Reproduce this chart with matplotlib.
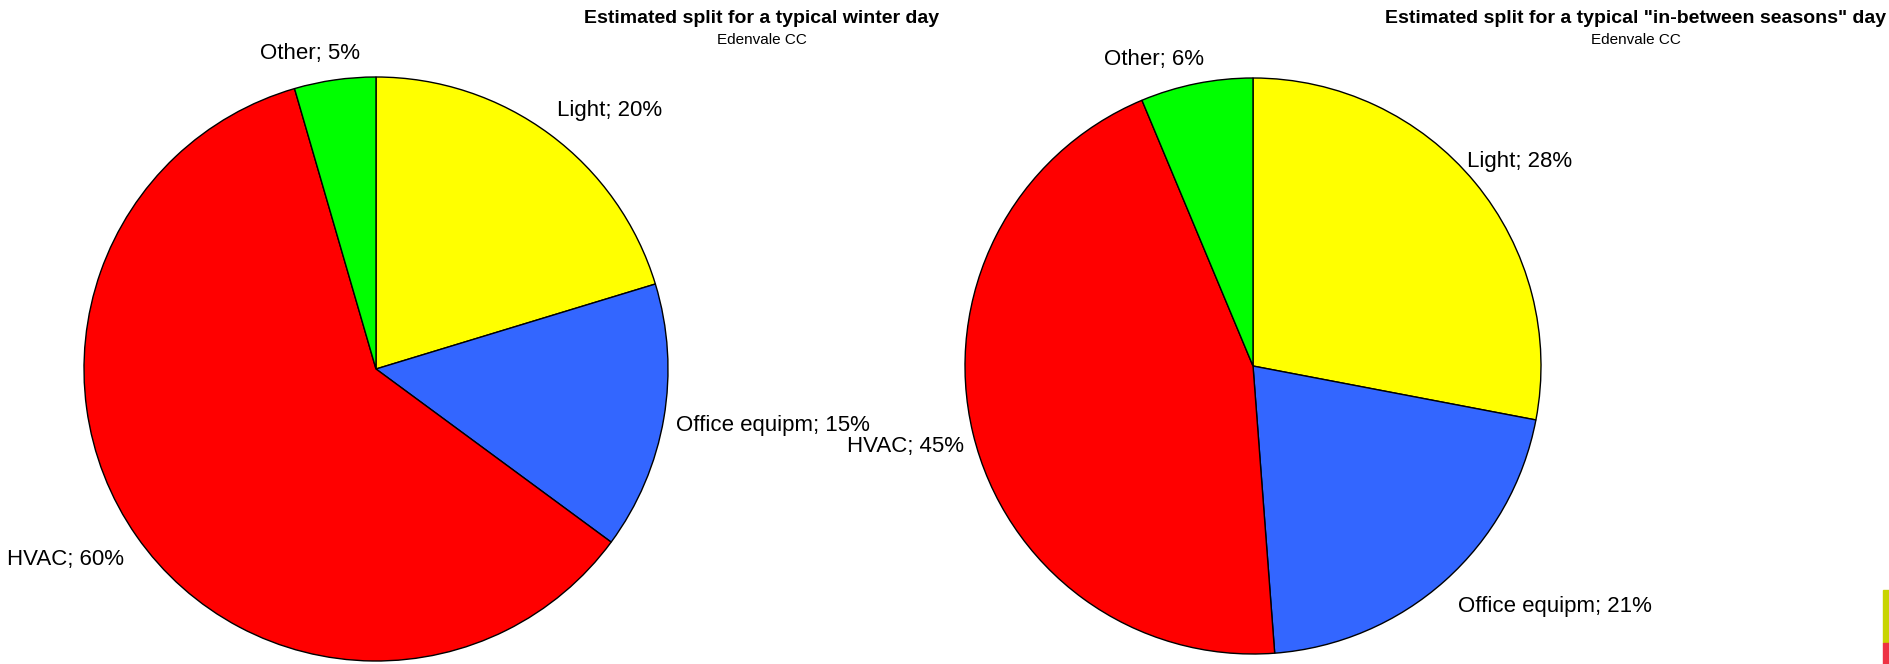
import matplotlib
matplotlib.use("Agg")
import matplotlib.pyplot as plt
import numpy as np

plt.rcParams["font.family"] = ["Liberation Sans", "DejaVu Sans"]

# data (shares in %, labels show them rounded)
categories = ["Light", "Office equipm", "HVAC", "Other"]
winter_share = [20.3, 14.8, 60.4, 4.5]
between_share = [28.0, 20.8, 44.9, 6.3]
slice_colors = ["#FFFF00", "#3366FF", "#FF0000", "#00FF00"]

titles = ["Estimated split for a typical winter day",
          "Estimated split for a typical \"in-between seasons\" day"]
subtitle = "Edenvale CC"

# layout (pixels): label offset from the wedge edge at mid angle
W, H = 1889, 664
left_offsets = [(7, 18, "left"), (12, -13, "left"), (-13, -29, "right"), (-25, 21, "center")]
right_offsets = [(-8, 15, "left"), (13, -31, "left"), (-9, -19, "right"), (-42, 19, "center")]
# pie boxes: centre x, centre y (from top), radius
left_box = (376, 369, 292)
right_box = (1253, 366, 288)
title_x = [762, 1636]

fig = plt.figure(figsize=(W / 100, H / 100), dpi=100)


def draw_pie(box, values, offsets):
    cx, cy, r = box
    ax = fig.add_axes([(cx - r) / W, (H - cy - r) / H, 2 * r / W, 2 * r / H])
    wedges, _ = ax.pie(values, colors=slice_colors, startangle=90, counterclock=False,
                       radius=1, wedgeprops=dict(edgecolor="black", linewidth=1.0))
    ax.set_xlim(-1, 1)
    ax.set_ylim(-1, 1)
    ax.set_aspect("equal")
    ax.axis("off")
    for w, cat, val, (dx, dy, ha) in zip(wedges, categories, values, offsets):
        mid = np.deg2rad((w.theta1 + w.theta2) / 2)
        pct = int(np.floor(val + 0.5))
        ax.annotate(f"{cat}; {pct}%", xy=(np.cos(mid), np.sin(mid)),
                    xytext=(dx, dy), textcoords="offset pixels",
                    ha=ha, va="baseline", fontsize=16, color="black",
                    annotation_clip=False)
    return ax


draw_pie(left_box, winter_share, left_offsets)
draw_pie(right_box, between_share, right_offsets)

for tx, t in zip(title_x, titles):
    fig.text(tx / W, 1 - 23 / H, t, ha="center", va="baseline",
             fontsize=14, fontweight="bold")
    fig.text(tx / W, 1 - 44 / H, subtitle, ha="center", va="baseline", fontsize=11)

# cropped legend swatches at the right edge
fig.patches.append(plt.Rectangle((1883 / W, (H - 643) / H), 6 / W, 53 / H,
                                 transform=fig.transFigure, color="#C8D400"))
fig.patches.append(plt.Rectangle((1883 / W, 0), 6 / W, 21 / H,
                                 transform=fig.transFigure, color="#EE3344"))

fig.savefig("out.png", dpi=100, facecolor="white")
